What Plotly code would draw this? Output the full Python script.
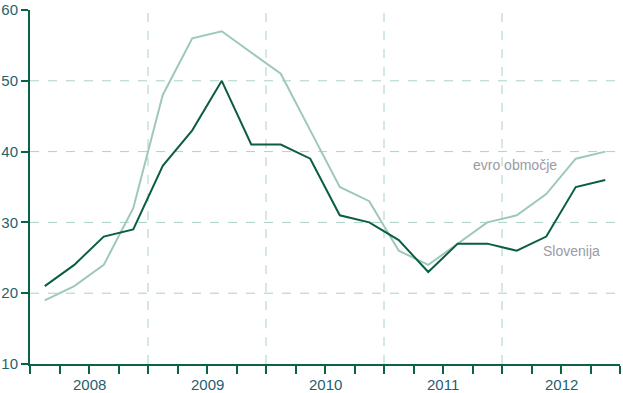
import plotly.graph_objects as go

years = ["2008", "2009", "2010", "2011", "2012"]
quarters_per_year = 4
slovenija = [21, 24, 28, 29, 38, 43, 50, 41, 41, 39, 31, 30, 27.5, 23, 27, 27, 26, 28, 35, 36]
evro = [19, 21, 24, 32, 48, 56, 57, 54, 51, 43, 35, 33, 26, 24, 27, 30, 31, 34, 39, 40]
y_ticks = [10, 20, 30, 40, 50, 60]
grid_y = [20, 30, 40, 50]

n = len(slovenija)
xq = [i + 0.5 for i in range(n)]

axis_col = "#0b6347"
label_col = "#1f6170"
grid_col = "#a9d2c6"
font_fam = "Liberation Sans Narrow, Arial Narrow, Liberation Sans"

fig = go.Figure()
fig.add_trace(go.Scatter(x=xq, y=evro, mode="lines", line=dict(color="#9ec8b9", width=2), name="evro območje"))
fig.add_trace(go.Scatter(x=xq, y=slovenija, mode="lines", line=dict(color="#0b5e45", width=2), name="Slovenija"))

shapes = []
for k in range(1, len(years)):
    shapes.append(dict(type="line", xref="x", yref="paper", x0=k * quarters_per_year, x1=k * quarters_per_year,
                       y0=0, y1=1.005, line=dict(color=grid_col, width=1, dash="dash"), layer="below"))
for g in grid_y:
    shapes.append(dict(type="line", xref="paper", yref="y", x0=0, x1=1, y0=g, y1=g,
                       line=dict(color=grid_col, width=1, dash="dash"), layer="below"))

annotations = []
for k, yr in enumerate(years):
    annotations.append(dict(x=k * quarters_per_year + quarters_per_year / 2, y=0, xref="x", yref="paper",
                            yanchor="middle", yshift=-20, text=yr, showarrow=False,
                            font=dict(family=font_fam, size=15, color=label_col)))
annotations.append(dict(x=16.44, y=38.1, xref="x", yref="y", text="evro območje", showarrow=False,
                        font=dict(family=font_fam, size=14, color="#9a9aa6")))
annotations.append(dict(x=18.34, y=26.0, xref="x", yref="y", text="Slovenija", showarrow=False,
                        font=dict(family=font_fam, size=14, color="#9a9aa6")))

fig.update_layout(
    width=623, height=393,
    margin=dict(l=30, r=3, t=10, b=29, autoexpand=False),
    paper_bgcolor="white", plot_bgcolor="white",
    showlegend=False,
    shapes=shapes, annotations=annotations,
    xaxis=dict(range=[0, n], tickvals=list(range(0, n + 1)), ticktext=[""] * (n + 1),
               showgrid=False, zeroline=False, showline=True, linecolor=axis_col, linewidth=2,
               ticks="outside", ticklen=8, tickwidth=2, tickcolor=axis_col, automargin=False),
    yaxis=dict(range=[10, 60], tickvals=y_ticks, showgrid=False, zeroline=False,
               showline=True, linecolor=axis_col, linewidth=2,
               ticks="outside", ticklen=7, tickwidth=2, tickcolor=axis_col, automargin=False,
               tickfont=dict(family=font_fam, size=15, color=label_col)),
)

fig.write_html("out.html", config={"displayModeBar": False},
               post_script="document.body.style.margin='0';document.body.style.overflow='hidden';")
